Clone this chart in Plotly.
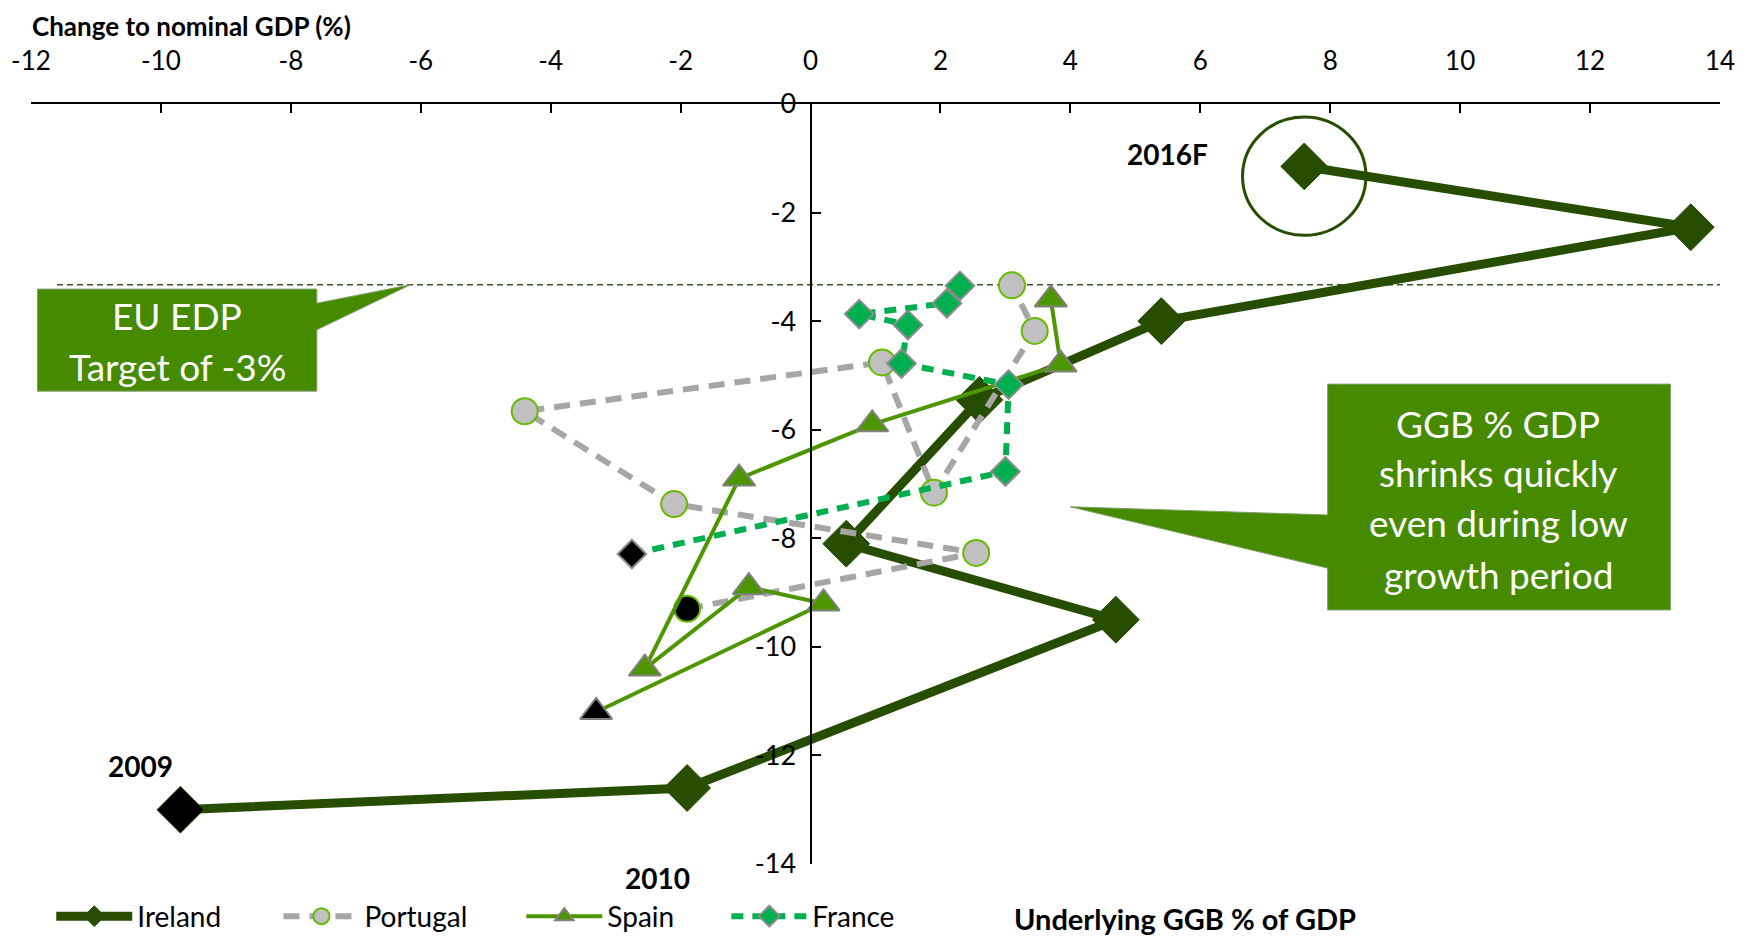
import plotly.graph_objects as go

# ---------------- data ----------------
ireland_x = [-9.7, -1.9, 4.7, 0.55, 2.6, 5.4, 13.55, 7.6]
ireland_y = [-13.0, -12.6, -9.5, -8.1, -5.45, -4.0, -2.27, -1.15]

portugal_x = [-1.9, 2.55, -2.1, -4.4, 1.1, 1.9, 3.45, 3.1]
portugal_y = [-9.3, -8.27, -7.37, -5.66, -4.76, -7.16, -4.18, -3.34]

spain_x = [-3.3, 0.2, -0.95, -2.55, -1.1, 0.95, 3.85, 3.7]
spain_y = [-11.2, -9.2, -8.9, -10.4, -6.9, -5.9, -4.8, -3.6]

france_x = [-2.75, 3.0, 3.05, 1.4, 1.5, 0.75, 2.1, 2.3]
france_y = [-8.29, -6.77, -5.17, -4.78, -4.07, -3.87, -3.67, -3.35]

edp_target = -3.33
x_ticks = list(range(-12, 15, 2))
x_ticktext = ["-12", "-10", "-8", "-6", "-4", "-2", "0", "2", "4", "6", "8", "10", "12", "14"]
y_ticks = list(range(-14, 1, 2))
y_ticktext = ["-14", "-12", "-10", "-8", "-6", "-4", "-2", "0"]

FONT = "Lato, 'Open Sans', sans-serif"

C_IRL = "#264D00"
C_PRT = "#A6A6A6"
C_ESP = "#4E9600"
C_FRA = "#00B050"
C_BOX = "#468A00"


def first_black(color, n):
    return ["#000000"] + [color] * (n - 1)


series = [
    dict(name="Ireland", x=ireland_x, y=ireland_y, legend="legend",
         line=dict(color=C_IRL, width=9), symbol="diamond", size=36, fill=C_IRL,
         mline=dict(color=C_IRL, width=1)),
    dict(name="Portugal", x=portugal_x, y=portugal_y, legend="legend2",
         line=dict(color=C_PRT, width=6, dash="16px,10px"), symbol="circle", size=26, fill="#C0C0C0",
         mline=dict(color="#66BB00", width=2)),
    dict(name="Spain", x=spain_x, y=spain_y, legend="legend3",
         line=dict(color=C_ESP, width=4), symbol="triangle-up", size=28, fill=C_ESP,
         mline=dict(color="#808080", width=2)),
    dict(name="France", x=france_x, y=france_y, legend="legend4",
         line=dict(color=C_FRA, width=6, dash="12px,9px"), symbol="diamond", size=22, fill=C_FRA,
         mline=dict(color="#8C8C8C", width=2)),
]

fig = go.Figure()
for s in series:
    fig.add_trace(go.Scatter(
        x=s["x"], y=s["y"], name=s["name"], mode="lines+markers", line=s["line"],
        marker=dict(symbol=s["symbol"], size=s["size"], color=first_black(s["fill"], len(s["x"])),
                    line=s["mline"]),
        cliponaxis=False, showlegend=False,
    ))
for s in series:
    fig.add_trace(go.Scatter(
        x=[None], y=[None], name=s["name"], mode="lines+markers", line=dict(s["line"]),
        marker=dict(symbol=s["symbol"], size=s["size"], color=s["fill"], line=s["mline"]),
        showlegend=True, legend=s["legend"],
    ))

shapes = []
shapes.append(dict(type="line", xref="x", yref="y", x0=-11.6, x1=14, y0=edp_target, y1=edp_target,
                   line=dict(color="#375623", width=1.5, dash="6px,4px"), layer="below"))
shapes.append(dict(type="circle", xref="x", yref="y", x0=7.6 - 0.95, x1=7.6 + 0.95,
                   y0=-1.33 - 1.09, y1=-1.33 + 1.09, line=dict(color=C_IRL, width=3)))
bx0, bx1, by0, by1 = -11.9, -7.6, -3.41, -5.29
shapes.append(dict(type="path", xref="x", yref="y",
                   path=f"M{bx0},{by0} L{bx1},{by0} L{bx1},-3.67 L-6.16,{edp_target} L{bx1},-4.16 "
                        f"L{bx1},{by1} L{bx0},{by1} Z",
                   fillcolor=C_BOX, line=dict(color="#7F9F6A", width=1)))
cx0, cx1, cy0, cy1 = 7.96, 13.24, -5.16, -9.32
shapes.append(dict(type="path", xref="x", yref="y",
                   path=f"M{cx0},{cy0} L{cx1},{cy0} L{cx1},{cy1} L{cx0},{cy1} L{cx0},-8.55 "
                        f"L4.0,-7.42 L{cx0},-7.57 Z",
                   fillcolor=C_BOX, line=dict(color="#7F9F6A", width=1)))

annotations = []


def add_text(x, y, text, size=37, color="white", bold=False, xref="x", yref="y", xanchor="center",
             yanchor="middle"):
    annotations.append(dict(x=x, y=y, xref=xref, yref=yref, text=(f"<b>{text}</b>" if bold else text),
                            showarrow=False, xanchor=xanchor, yanchor=yanchor, borderpad=0,
                            font=dict(family=FONT, size=size, color=color)))


add_text(-9.75, -3.89, "EU EDP")
add_text(-9.75, -4.84, "Target of -3%")
for yy, t in zip([-5.88, -6.78, -7.70, -8.66],
                 ["GGB % GDP", "shrinks quickly", "even during low", "growth period"]):
    add_text(10.59, yy, t)

add_text(5.5, -0.92, "2016F", size=28, color="black", bold=True)
add_text(-10.31, -12.19, "2009", size=28, color="black", bold=True)
add_text(0.371, -0.0184, "2010", size=28, color="black", bold=True, xref="paper", yref="paper")

add_text(0.0, 1.125, "Change to nominal GDP (%)", size=26, color="black", bold=True,
         xref="paper", yref="paper", xanchor="left", yanchor="top")
add_text(0.5814, -0.072, "Underlying GGB % of GDP", size=29, color="black", bold=True,
         xref="paper", yref="paper", xanchor="left")

leg_common = dict(orientation="h", yanchor="middle", y=-0.069, xanchor="left",
                  font=dict(family=FONT, size=28, color="black"), itemwidth=76,
                  bgcolor="rgba(0,0,0,0)", borderwidth=0)

fig.update_layout(
    width=1746, height=931,
    margin=dict(l=23, r=34, t=96, b=75, autoexpand=False),
    paper_bgcolor="white", plot_bgcolor="white",
    font=dict(family=FONT, size=26, color="black"),
    showlegend=True,
    shapes=shapes, annotations=annotations,
    legend=dict(x=0.012, **leg_common),
    legend2=dict(x=0.1465, **leg_common),
    legend3=dict(x=0.2903, **leg_common),
    legend4=dict(x=0.4117, **leg_common),
    xaxis=dict(range=[-12, 14], side="top", tickvals=x_ticks, ticktext=x_ticktext, showline=True,
               linecolor="black", linewidth=2, ticks="inside", ticklen=9, tickwidth=2,
               tickcolor="black", showgrid=False, zeroline=False, ticklabelstandoff=22,
               tickfont=dict(family=FONT, size=26)),
    yaxis=dict(range=[-14, 0], tickvals=y_ticks, ticktext=y_ticktext, showline=True,
               linecolor="black", linewidth=2, ticks="inside", ticklen=9, tickwidth=2,
               tickcolor="black", showgrid=False, zeroline=False, anchor="free",
               position=12 / 26, ticklabelstandoff=8, tickfont=dict(family=FONT, size=27)),
)

fig.write_html("out.html")
